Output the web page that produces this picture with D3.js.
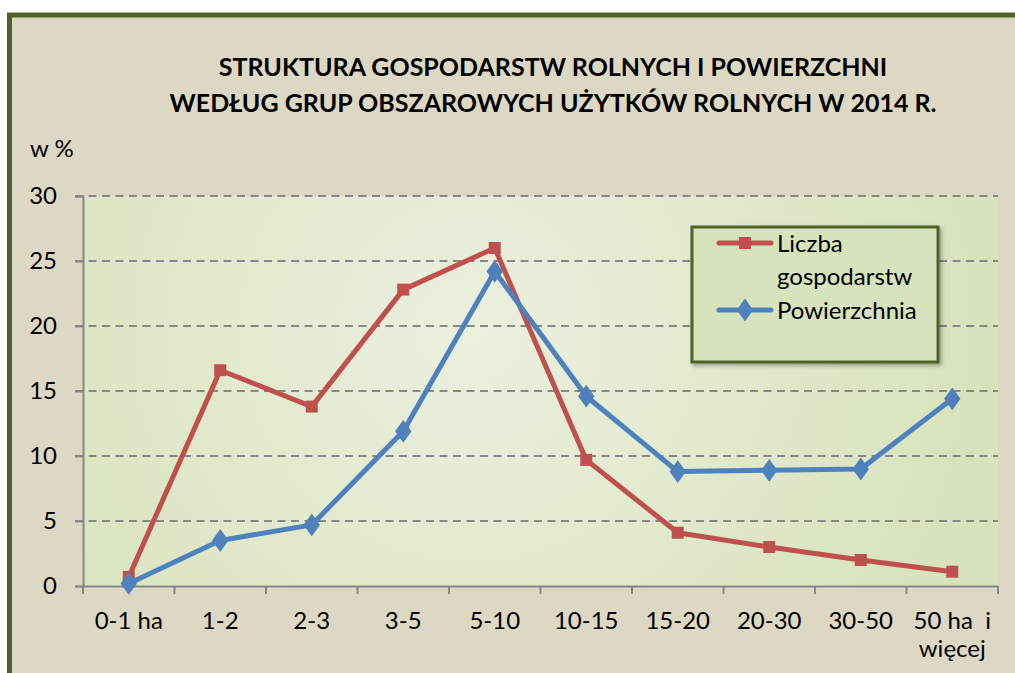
<!DOCTYPE html>
<html>
<head>
<meta charset="utf-8">
<script src="https://cdn.jsdelivr.net/npm/d3@7"></script>
<style>
  body { margin: 0; background: #ffffff; }
  text { font-family: Lato, "Open Sans", sans-serif; fill: #000; }
</style>
</head>
<body>
<div id="chart"></div>
<script>
const width = 1015;
const height = 673;

// data
const categories = ["0-1 ha", "1-2", "2-3", "3-5", "5-10", "10-15", "15-20", "20-30", "30-50", "50 ha  i|więcej"];
const liczba = [0.7, 16.6, 13.8, 22.8, 26.0, 9.7, 4.1, 3.0, 2.0, 1.1];
const powierzchnia = [0.2, 3.5, 4.7, 11.9, 24.2, 14.6, 8.8, 8.9, 9.0, 14.4];
const yTicks = [0, 5, 10, 15, 20, 25, 30];
const titleLines = [
  "STRUKTURA GOSPODARSTW ROLNYCH I POWIERZCHNI",
  "WEDŁUG GRUP OBSZAROWYCH UŻYTKÓW ROLNYCH W 2014 R."
];
const seriesNames = ["Liczba|gospodarstw", "Powierzchnia"];

const red = "#c0504d";
const blue = "#4f81bd";
const frameColor = "#4f6228";
const fontSize = "24px";

const margin = { left: 83, right: 17, top: 196, bottom: 87 };

const svg = d3
  .select("#chart")
  .append("svg")
  .attr("width", width)
  .attr("height", height);

const defs = svg.append("defs");
const grad = defs
  .append("radialGradient")
  .attr("id", "plotBg")
  .attr("gradientUnits", "userSpaceOnUse")
  .attr("cx", 470)
  .attr("cy", 330)
  .attr("r", 520);
grad.append("stop").attr("offset", "0%").attr("stop-color", "#ebf0df");
grad.append("stop").attr("offset", "100%").attr("stop-color", "#d7e3bc");

const shadow = defs.append("filter").attr("id", "shadow")
  .attr("x", "-10%").attr("y", "-10%").attr("width", "130%").attr("height", "130%");
shadow.append("feDropShadow")
  .attr("dx", 2).attr("dy", 2).attr("stdDeviation", 2)
  .attr("flood-color", "#000").attr("flood-opacity", 0.35);

// outer frame
svg.append("rect")
  .attr("x", 9.5).attr("y", 15)
  .attr("width", width + 20).attr("height", height + 20)
  .attr("fill", "#ddd8c3")
  .attr("stroke", frameColor)
  .attr("stroke-width", 5);

// scales
const x = d3.scaleBand()
  .domain(categories)
  .range([margin.left, width - margin.right]);

const y = d3.scaleLinear()
  .domain([0, 30])
  .range([height - margin.bottom, margin.top]);

// plot area
svg.append("rect")
  .attr("x", margin.left).attr("y", y(30))
  .attr("width", x.range()[1] - margin.left)
  .attr("height", y(0) - y(30))
  .attr("fill", "url(#plotBg)");

// gridlines
svg.append("g")
  .selectAll("line")
  .data(yTicks.filter(d => d > 0))
  .join("line")
  .attr("x1", margin.left - 8)
  .attr("x2", x.range()[1])
  .attr("y1", d => y(d))
  .attr("y2", d => y(d))
  .attr("stroke", "#878787")
  .attr("stroke-width", 2.2)
  .attr("stroke-dasharray", "8,5.5");

// y axis
const yAxis = svg.append("g")
  .attr("transform", `translate(${margin.left},0)`)
  .call(d3.axisLeft(y).tickValues(yTicks).tickSize(8).tickPadding(18));
yAxis.select(".domain").attr("stroke", "#878787").attr("stroke-width", 2);
yAxis.selectAll(".tick line").attr("stroke", "#878787").attr("stroke-width", 2);
yAxis.selectAll(".tick text")
  .style("font-size", fontSize)
  .style("font-family", "Lato, sans-serif")
  .attr("fill", "#000");

// x axis
const xAxis = svg.append("g")
  .attr("transform", `translate(0,${y(0)})`)
  .call(d3.axisBottom(x).tickSize(0).tickFormat(""));
xAxis.select(".domain").attr("stroke", "#878787").attr("stroke-width", 2);

svg.append("g")
  .selectAll("line")
  .data(categories.map(c => x(c)).concat([x.range()[1]]))
  .join("line")
  .attr("x1", d => d).attr("x2", d => d)
  .attr("y1", y(0)).attr("y2", y(0) + 8)
  .attr("stroke", "#878787").attr("stroke-width", 2);

const xLabels = svg.append("g")
  .selectAll("text")
  .data(categories)
  .join("text")
  .attr("x", d => x(d) + x.bandwidth() / 2)
  .attr("y", y(0) + 43)
  .attr("text-anchor", "middle")
  .style("font-size", fontSize);
xLabels.each(function(d) {
  const parts = d.split("|");
  const t = d3.select(this);
  parts.forEach((p, i) => {
    t.append("tspan")
      .attr("x", x(d) + x.bandwidth() / 2)
      .attr("dy", i === 0 ? 0 : 28)
      .attr("xml:space", "preserve")
      .text(p);
  });
});

// title
svg.append("g")
  .selectAll("text")
  .data(titleLines)
  .join("text")
  .attr("x", 553)
  .attr("y", (d, i) => 76 + i * 36)
  .attr("text-anchor", "middle")
  .style("font-size", "25px")
  .style("font-weight", "bold")
  .text(d => d);

svg.append("text")
  .attr("x", 30).attr("y", 157)
  .style("font-size", fontSize)
  .text("w %");

// lines
const cx = d => x(d) + x.bandwidth() / 2;
const line = d3.line()
  .x((d, i) => cx(categories[i]))
  .y(d => y(d));

svg.append("path")
  .datum(liczba)
  .attr("d", line)
  .attr("fill", "none")
  .attr("stroke", red)
  .attr("stroke-width", 5)
  .attr("stroke-linejoin", "round");

svg.append("g")
  .selectAll("rect")
  .data(liczba)
  .join("rect")
  .attr("x", (d, i) => cx(categories[i]) - 6)
  .attr("y", d => y(d) - 6)
  .attr("width", 12).attr("height", 12)
  .attr("fill", red);

svg.append("path")
  .datum(powierzchnia)
  .attr("d", line)
  .attr("fill", "none")
  .attr("stroke", blue)
  .attr("stroke-width", 5)
  .attr("stroke-linejoin", "round");

const diamond = d3.symbol().type(d3.symbolDiamond).size(150);
svg.append("g")
  .selectAll("path")
  .data(powierzchnia)
  .join("path")
  .attr("d", diamond)
  .attr("transform", (d, i) => `translate(${cx(categories[i])},${y(d)}) scale(1.25,1)`)
  .attr("fill", blue);

// legend
const legend = svg.append("g");
legend.append("rect")
  .attr("x", 692).attr("y", 227)
  .attr("width", 246).attr("height", 135)
  .attr("fill", "#d7e3bc")
  .attr("stroke", frameColor)
  .attr("stroke-width", 3)
  .attr("filter", "url(#shadow)");

const legendRows = [
  { name: seriesNames[0], color: red, ly: 243, marker: "square" },
  { name: seriesNames[1], color: blue, ly: 310, marker: "diamond" }
];
legendRows.forEach(r => {
  legend.append("line")
    .attr("x1", 719).attr("x2", 771)
    .attr("y1", r.ly).attr("y2", r.ly)
    .attr("stroke", r.color).attr("stroke-width", 5)
    .attr("stroke-linecap", "round");
  if (r.marker === "square") {
    legend.append("rect")
      .attr("x", 739).attr("y", r.ly - 6)
      .attr("width", 12).attr("height", 12)
      .attr("fill", r.color);
  } else {
    legend.append("path")
      .attr("d", diamond)
      .attr("transform", `translate(745,${r.ly}) scale(1.25,1)`)
      .attr("fill", r.color);
  }
  const t = legend.append("text")
    .attr("x", 777).attr("y", r.ly + 9)
    .style("font-size", fontSize);
  r.name.split("|").forEach((p, i) => {
    t.append("tspan").attr("x", 777).attr("dy", i === 0 ? 0 : 33).text(p);
  });
});
</script>
</body>
</html>
